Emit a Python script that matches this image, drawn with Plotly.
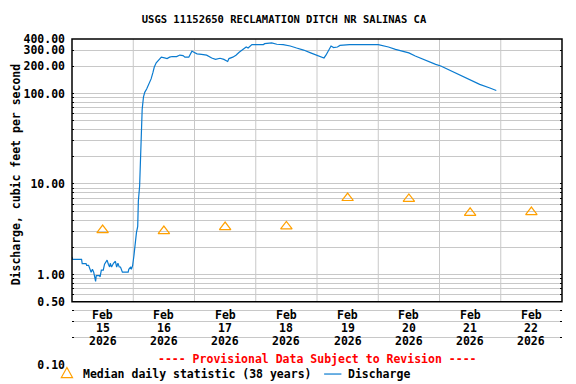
import math
import plotly.graph_objects as go

# ---------------- data ----------------
q_times = [
    "2026-02-15 00:00", "2026-02-15 00:15", "2026-02-15 03:45", "2026-02-15 04:00",
    "2026-02-15 05:30", "2026-02-15 05:45", "2026-02-15 06:30", "2026-02-15 07:00",
    "2026-02-15 07:30", "2026-02-15 08:00", "2026-02-15 08:30", "2026-02-15 09:15",
    "2026-02-15 09:30", "2026-02-15 10:45", "2026-02-15 11:00", "2026-02-15 11:30",
    "2026-02-15 12:15", "2026-02-15 12:45", "2026-02-15 13:45", "2026-02-15 14:15",
    "2026-02-15 14:45", "2026-02-15 15:00", "2026-02-15 15:30", "2026-02-15 16:15",
    "2026-02-15 17:00", "2026-02-15 17:30", "2026-02-15 18:00", "2026-02-15 18:30",
    "2026-02-15 19:00", "2026-02-15 19:45", "2026-02-15 22:00", "2026-02-15 22:15",
    "2026-02-15 23:00", "2026-02-15 23:15", "2026-02-15 23:45",
    "2026-02-16 00:15", "2026-02-16 00:30", "2026-02-16 00:45", "2026-02-16 01:15",
    "2026-02-16 01:45", "2026-02-16 02:00", "2026-02-16 02:30", "2026-02-16 03:00",
    "2026-02-16 03:15", "2026-02-16 03:30", "2026-02-16 04:00", "2026-02-16 04:30",
    "2026-02-16 05:15", "2026-02-16 06:00", "2026-02-16 07:00", "2026-02-16 07:45",
    "2026-02-16 08:15", "2026-02-16 09:00", "2026-02-16 10:00", "2026-02-16 11:00",
    "2026-02-16 12:15", "2026-02-16 13:15", "2026-02-16 14:15", "2026-02-16 15:15",
    "2026-02-16 17:00", "2026-02-16 18:15", "2026-02-16 19:30", "2026-02-16 20:15",
    "2026-02-16 21:45", "2026-02-16 23:00", "2026-02-16 23:45",
    "2026-02-17 01:00", "2026-02-17 02:45", "2026-02-17 04:45", "2026-02-17 06:45",
    "2026-02-17 08:15", "2026-02-17 10:00", "2026-02-17 11:30", "2026-02-17 13:00",
    "2026-02-17 13:30", "2026-02-17 15:00", "2026-02-17 16:15", "2026-02-17 17:30",
    "2026-02-17 19:00", "2026-02-17 20:15", "2026-02-17 21:00", "2026-02-17 22:30",
    "2026-02-18 03:00", "2026-02-18 03:30", "2026-02-18 06:15", "2026-02-18 08:15",
    "2026-02-18 10:45", "2026-02-18 13:30", "2026-02-18 16:00", "2026-02-18 18:45",
    "2026-02-18 21:30",
    "2026-02-19 00:00", "2026-02-19 01:30", "2026-02-19 02:45", "2026-02-19 03:30",
    "2026-02-19 04:45", "2026-02-19 05:30", "2026-02-19 06:30", "2026-02-19 08:00",
    "2026-02-19 09:00", "2026-02-19 12:45",
    "2026-02-20 00:00", "2026-02-20 01:30", "2026-02-20 04:00", "2026-02-20 06:45",
    "2026-02-20 09:15", "2026-02-20 12:00", "2026-02-20 14:30", "2026-02-20 18:30",
    "2026-02-20 22:30",
    "2026-02-21 00:30", "2026-02-21 04:00", "2026-02-21 08:00", "2026-02-21 12:00",
    "2026-02-21 15:45", "2026-02-21 19:45", "2026-02-21 22:15",
]
q_values = [
    1.57, 1.47, 1.47, 1.32,
    1.32, 1.26, 1.26, 1.14,
    1.06, 1.14, 1.06, 0.84,
    0.97, 0.97, 0.94, 1.12,
    1.12, 1.30, 1.44, 1.30,
    1.21, 1.33, 1.21, 1.33,
    1.40, 1.21, 1.33, 1.21,
    1.21, 1.06, 1.06, 1.14,
    1.21, 1.14, 1.25,
    1.6, 1.9, 2.3, 2.9,
    3.4, 6.5, 9.5, 31,
    50, 67, 91, 103,
    112, 123, 145, 172,
    196, 218, 238, 252,
    247, 243, 252, 256,
    256, 266, 262, 252,
    252, 294, 286,
    274, 271, 265, 247,
    238, 245, 238, 226,
    243, 252, 265, 286,
    305, 326, 318, 347,
    347, 355, 362, 350,
    347, 335, 318, 302,
    281,
    266, 256, 247, 265,
    313, 335, 322, 326,
    340, 347,
    347, 340, 326, 307,
    294, 281, 260, 232,
    210,
    201, 180, 158, 139,
    126, 115, 108,
]

median_days = ["2026-02-15 12:00", "2026-02-16 12:00", "2026-02-17 12:00", "2026-02-18 12:00",
               "2026-02-19 12:00", "2026-02-20 12:00", "2026-02-21 12:00", "2026-02-22 12:00"]
median_values = [3.10, 3.02, 3.34, 3.40, 7.0, 6.85, 4.8, 4.9]

day_months = ["Feb"] * 8
day_numbers = ["15", "16", "17", "18", "19", "20", "21", "22"]
day_years = ["2026"] * 8
day_bounds = ["2026-02-16", "2026-02-17", "2026-02-18", "2026-02-19",
              "2026-02-20", "2026-02-21", "2026-02-22"]

y_label_vals = [0.1, 0.5, 1, 10, 100, 200, 300, 400]
y_label_text = ["0.10", "0.50", "1.00", "10.00", "100.00", "200.00", "300.00", "400.00"]
y_grid_vals = [m * d for d in (0.1, 1, 10) for m in range(1, 10)] + [100, 200, 300, 400]

# ---------------- style ----------------
FONT = "DejaVu Sans Mono"
Y_MIN, Y_MAX = 0.1, 400.0
LMIN, LMAX = math.log10(Y_MIN), math.log10(Y_MAX)
FRAME_BOTTOM = (math.log10(0.5) - LMIN) / (LMAX - LMIN)   # paper y of the 0.50 line

# the page body has an 8px default margin: size the figure so the plot area
# lands at window pixels x 72..554, y 39..364
OFF = 8
WIN_W, WIN_H = 576, 384
W, H = WIN_W - OFF, WIN_H - OFF
PL, PR, PT, PB = 72, 554, 39, 364          # plot area in window pixels
ML, MR, MT, MB = PL - OFF, WIN_W - PR - OFF, PT - OFF, WIN_H - PB - OFF
PW, PH = PR - PL, PB - PT

def px(xw):
    return (xw - PL) / PW

def py(yw):
    return (PB - yw) / PH

BLUE = "#0A7BD0"
ORANGE = "#FFA000"

fig = go.Figure()

fig.add_trace(go.Scatter(
    x=q_times, y=q_values, mode="lines", name="Discharge",
    line=dict(color=BLUE, width=1.2), showlegend=False,
))
fig.add_trace(go.Scatter(
    x=median_days, y=median_values, mode="markers",
    name="Median daily statistic (38 years)",
    marker=dict(symbol="triangle-up-open", size=10, color=ORANGE,
                line=dict(width=1.2, color=ORANGE)),
    showlegend=False,
))

shapes = []
for d in day_bounds:
    shapes.append(dict(type="line", xref="x", yref="paper", x0=d, x1=d,
                       y0=FRAME_BOTTOM, y1=1, line=dict(color="#C8C8C8", width=1),
                       layer="below"))
shapes.append(dict(type="rect", xref="paper", yref="paper", x0=0, x1=1,
                   y0=FRAME_BOTTOM, y1=1, line=dict(color="black", width=1.5)))
# legend symbols
tri = "M {a},{b} L {c},{d} L {e},{d} Z".format(
    a=px(67), b=py(366.5), c=px(61.5), d=py(376.5), e=px(72.5))
shapes.append(dict(type="path", xref="paper", yref="paper", path=tri,
                   line=dict(color=ORANGE, width=1.2)))
shapes.append(dict(type="line", xref="paper", yref="paper", x0=px(320), x1=px(337),
                   y0=py(373), y1=py(373), line=dict(color=BLUE, width=1.2)))

annotations = []
lab_font = dict(family=FONT, size=11.5, color="black", weight="bold")
for i, d in enumerate(median_days):
    for txt, yy in ((day_months[i], 314), (day_numbers[i], 327), (day_years[i], 340)):
        annotations.append(dict(x=d, xref="x", y=py(yy), yref="paper", text=txt,
                                showarrow=False, font=lab_font,
                                xanchor="center", yanchor="middle"))
annotations.append(dict(x=px(OFF), xref="paper", y=py(174), yref="paper",
                        text="Discharge, cubic feet per second", textangle=-90,
                        showarrow=False, font=lab_font, xanchor="left", yanchor="middle"))
annotations.append(dict(x=px(313), xref="paper", y=py(358), yref="paper",
                        text="---- Provisional Data Subject to Revision ----",
                        showarrow=False, xanchor="center", yanchor="middle",
                        font=dict(family=FONT, size=11.5, color="#FF0000", weight="bold")))
annotations.append(dict(x=px(81), xref="paper", y=py(373), yref="paper",
                        text="Median daily statistic (38 years)", showarrow=False,
                        xanchor="left", yanchor="middle", font=lab_font))
annotations.append(dict(x=px(342), xref="paper", y=py(373), yref="paper",
                        text="Discharge", showarrow=False,
                        xanchor="left", yanchor="middle", font=lab_font))

label_map = dict(zip(y_label_vals, y_label_text))
tick_vals = sorted(set([round(v, 6) for v in y_grid_vals] + y_label_vals))
tick_text = [label_map.get(v, "") for v in tick_vals]

fig.update_layout(
    width=W, height=H,
    margin=dict(l=ML, r=MR, t=MT, b=MB, pad=0),
    paper_bgcolor="white", plot_bgcolor="white",
    title=dict(text="USGS 11152650 RECLAMATION DITCH NR SALINAS CA",
               x=(284 - OFF) / W, xanchor="center", y=1 - (19.5 - OFF) / H, yanchor="middle",
               font=dict(family=FONT, size=10.5, color="black", weight="bold")),
    xaxis=dict(type="date", range=["2026-02-15 00:00", "2026-02-23 00:00"],
               showgrid=False, zeroline=False, showticklabels=False, ticks="",
               showline=False, fixedrange=True),
    yaxis=dict(type="log", range=[LMIN, LMAX], tickmode="array",
               tickvals=tick_vals, ticktext=tick_text,
               showgrid=True, gridcolor="#C8C8C8", gridwidth=1,
               zeroline=False, showline=False, ticks="inside", ticklen=2,
               tickcolor="black", mirror="ticks", ticklabelstandoff=6,
               tickfont=dict(family=FONT, size=11.5, color="black", weight="bold")),
    shapes=shapes, annotations=annotations, showlegend=False,
)

fig.write_html("out.html")
